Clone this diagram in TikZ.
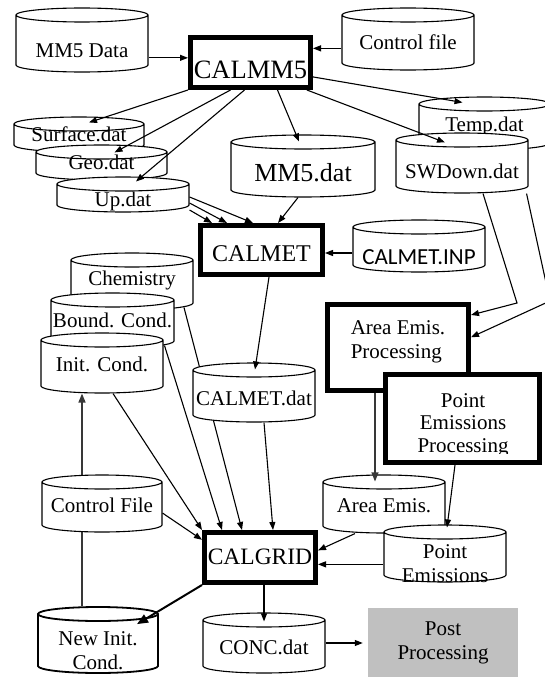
\documentclass[tikz,border=0pt]{standalone}
\usepackage{fontspec}
\setmainfont{Liberation Serif}
\newfontfamily\inpfont{Carlito}
\usetikzlibrary{arrows.meta}
\definecolor{PostGray}{HTML}{C0C0C0}
\definecolor{FlowGray}{HTML}{383838}
\newcommand\fsnorm{\fontsize{21}{24}\selectfont}
\newcommand\fsbig[1]{\fontsize{#1}{28}\selectfont}
\pgfdeclarelayer{back}
\pgfsetlayers{back,main}

% upright data cylinder on a rectangle
\makeatletter
\newdimen\cylxl \newdimen\cylxr \newdimen\cylyt \newdimen\cylyb
\newdimen\cylrx \newdimen\cylry
\pgfdeclareshape{datacyl}{%
  \inheritsavedanchors[from=rectangle]%
  \inheritanchorborder[from=rectangle]%
  \inheritanchor[from=rectangle]{center}%
  \inheritanchor[from=rectangle]{north}%
  \inheritanchor[from=rectangle]{south}%
  \inheritanchor[from=rectangle]{east}%
  \inheritanchor[from=rectangle]{west}%
  \inheritanchor[from=rectangle]{north east}%
  \inheritanchor[from=rectangle]{north west}%
  \inheritanchor[from=rectangle]{south east}%
  \inheritanchor[from=rectangle]{south west}%
  \backgroundpath{%
    \southwest \pgf@xa=\pgf@x \pgf@ya=\pgf@y
    \northeast \pgf@xb=\pgf@x \pgf@yb=\pgf@y
    \pgfmathsetlength\pgf@xc{\pgfkeysvalueof{/pgf/outer xsep}}%
    \pgfmathsetlength\pgf@yc{\pgfkeysvalueof{/pgf/outer ysep}}%
    \advance\pgf@xa by\pgf@xc \advance\pgf@ya by\pgf@yc
    \advance\pgf@xb by-\pgf@xc \advance\pgf@yb by-\pgf@yc
    \cylry=7pt
    \cylrx=\pgf@xb \advance\cylrx by-\pgf@xa \cylrx=.5\cylrx
    \cylxl=\pgf@xa \cylxr=\pgf@xb
    \cylyt=\pgf@yb \advance\cylyt by-\cylry
    \cylyb=\pgf@ya \advance\cylyb by\cylry
    \pgfpathmoveto{\pgfqpoint{\cylxl}{\cylyt}}%
    \pgfpathlineto{\pgfqpoint{\cylxl}{\cylyb}}%
    \pgfpatharc{180}{360}{\cylrx and \cylry}%
    \pgfpathlineto{\pgfqpoint{\cylxr}{\cylyt}}%
    \pgfpatharc{0}{180}{\cylrx and \cylry}%
    \pgfpathclose
    \pgfpathmoveto{\pgfqpoint{\cylxl}{\cylyt}}%
    \pgfpatharc{180}{360}{\cylrx and \cylry}%
  }%
}
\makeatother

\tikzset{
  datafile/.style={datacyl,draw,fill=white,line width=1.1pt,inner sep=0pt,align=center,font=\fsnorm},
  inkh/.style={text height=#1pt,text depth=0pt},
  progbox/.style={draw,line width=5pt,fill=white,inner sep=0pt,align=center},
  procbox/.style={draw,line width=5pt,fill=white,inner sep=0pt,align=center,font=\fsnorm},
  postbox/.style={fill=PostGray,inner sep=0pt,align=center,font=\fsnorm},
  flow/.style={-{Triangle[length=8pt,width=6pt]},line width=1.1pt},
  grayflow/.style={-{Triangle[length=9pt,width=7pt]},draw=FlowGray,line width=1.1pt},
  boldflow/.style={-{Triangle[length=11pt,width=9pt]},line width=2pt}
}

\begin{document}
\begin{tikzpicture}[x=1pt,y=-1pt]
  \useasboundingbox (0,0) rectangle (545,677);
  % meteorology part
  \node[datafile,inkh=34,minimum width=132pt,minimum height=64pt] (mmdata) at (82,40) {MM5 Data};
  \node[datafile,inkh=21,minimum width=132pt,minimum height=62pt] (ctrlmm) at (408,39) {Control file};
  \node[progbox,inkh=31,font=\fsbig{26.5},minimum width=120pt,minimum height=50pt] (calmm) at (250.5,62.5) {CALMM5};
  \node[datafile,inkh=16,minimum width=131pt,minimum height=53pt] (temp) at (484.5,123.5) {Temp.dat};
  \node[datafile,inkh=31,minimum width=132pt,minimum height=60pt] (swdown) at (462,163) {SWDown.dat};
  \node[datafile,inkh=14,minimum width=130pt,minimum height=35pt] (surface) at (79,134.5) {Surface.dat};
  \node[datafile,inkh=14,minimum width=131pt,minimum height=35pt] (geo) at (101.5,162.5) {Geo.dat};
  \node[datafile,inkh=23,minimum width=132pt,minimum height=35pt] (updat) at (123,194.5) {Up.dat};
  \node[datafile,inkh=30,font=\fsbig{26},minimum width=144pt,minimum height=62pt] (mmdat) at (303,166) {MM5.dat};
  \node[progbox,inkh=23,font=\fsbig{24},minimum width=122pt,minimum height=49pt] (calmet) at (261.5,250) {CALMET};
  \node[datafile,inkh=36,font=\inpfont\fontsize{23}{25}\selectfont,minimum width=132pt,minimum height=52pt] (calinp) at (419,246) {CALMET.INP};
  % chemistry part
  \node[datafile,inkh=8,minimum width=122pt,minimum height=57pt] (chem) at (132,281.5) {Chemistry};
  \node[datafile,inkh=14,minimum width=123pt,minimum height=55pt] (bound) at (112.5,320.5) {Bound. Cond.};
  \node[datafile,inkh=17,minimum width=122pt,minimum height=60pt] (initc) at (102,363) {Init. Cond.};
  \node[datafile,inkh=26,minimum width=122pt,minimum height=59pt] (metdat) at (254,392.5) {CALMET.dat};
  % emissions part
  \node[procbox,inkh=22,align=left,minimum width=141pt,minimum height=86pt] (areaproc) at (398,347.5) {Area Emis.\\Processing};
  \node[procbox,minimum width=154pt,minimum height=88pt] (pointproc) at (462.5,418.5) {};
  \begin{scope}
    \clip (pointproc.north west) rectangle ([yshift=12pt]pointproc.south east);
    \node[font=\fontsize{21}{22.5}\selectfont,align=center,inner sep=0pt] (pointtxt) at (463,425) {Point\\Emissions\\Processing};
  \end{scope}
  \node[datafile,inkh=17,minimum width=120pt,minimum height=57pt] (ctrlfile) at (102,503.5) {Control File};
  \node[datafile,inkh=17,minimum width=122pt,minimum height=58pt] (areaemis) at (384,504) {Area Emis.};
  \node[datafile,inkh=57,minimum width=122pt,minimum height=57pt] (pointemis) at (445,553.5) {Point\\Emissions};
  \node[progbox,inkh=14,font=\fsbig{23.5},minimum width=111pt,minimum height=50pt] (calgrid) at (260,557.5) {CALGRID};
  \node[datafile,inkh=58,line width=1.8pt,minimum width=120pt,minimum height=66pt] (newinit) at (98,640) {New Init.\\Cond.};
  \node[datafile,inkh=23,minimum width=122pt,minimum height=60pt] (conc) at (264,643) {CONC.dat};
  \node[postbox,minimum width=150pt,minimum height=70pt] (post) at (443,643) {Post\\Processing};
  \coordinate (bendA) at (517,303);
  \coordinate (bendB) at (550,301);

  % connectors
  \draw[flow] (mmdata.-15) -- (mmdata.-15 -| calmm.west);
  \draw[flow] (ctrlmm.188) -- (ctrlmm.188 -| calmm.east);
  \draw[flow] (calmm.south west) -- ([xshift=10pt,yshift=-6pt]surface.north);
  \draw[flow] ([xshift=-20pt]calmm.south) -- ([xshift=13pt,yshift=-8pt]geo.north);
  \draw[flow] ([xshift=-6pt]calmm.south) -- ([xshift=13pt,yshift=-5pt]updat.north);
  \draw[flow] ([xshift=27pt]calmm.south) -- ([xshift=-4pt,yshift=-7pt]mmdat.north);
  \draw[flow] (calmm.-13) -- ([xshift=-22pt,yshift=-6pt]temp.north);
  \draw[flow] (calmm.-26) -- ([xshift=-17pt,yshift=-10pt]swdown.north);
  \draw[flow] ([yshift=-2.5pt]updat.east) -- ([xshift=-8.5pt]calmet.north);
  \draw[flow] ([yshift=-8.5pt]updat.east) -- ([xshift=-34.5pt]calmet.north);
  \draw[flow] ([yshift=-15.5pt]updat.east) -- ([xshift=-49.5pt]calmet.north);
  \draw[flow] ([xshift=-5pt]mmdat.south) -- ([xshift=16.5pt]calmet.north);
  \draw[flow] (calinp.186) -- (calinp.186 -| calmet.east);
  \draw[flow] ([xshift=7.5pt]calmet.south) -- ([xshift=1pt,yshift=-7pt]metdat.north);
  \draw[flow] ([xshift=21pt]swdown.south) -- (bendA) -- (areaproc.24);
  \draw[flow] ([xshift=-2pt]swdown.south east) -- (bendB) -- (areaproc.8);
  \draw[grayflow] ([xshift=-23pt]areaproc.south) -- ([xshift=-9pt,yshift=-7pt]areaemis.north);
  \draw[flow] ([xshift=-7.5pt]pointproc.south) -- ([xshift=2pt,yshift=-3pt]pointemis.north);
  \draw[flow] ([xshift=-29pt]areaemis.south) -- (calgrid.7);
  \draw[flow] (pointemis.190) -- (pointemis.190 -| calgrid.east);
  \draw[flow] ([xshift=11pt]initc.south) -- (calgrid.north west);
  \draw[flow] ([xshift=52pt,yshift=3pt]bound.south) -- ([xshift=-38pt]calgrid.north);
  \begin{pgfonlayer}{back}
    \draw[flow] ([xshift=52pt,yshift=3pt]chem.south) -- ([xshift=-18pt]calgrid.north);
    \draw[grayflow,line width=1.5pt] ([xshift=-16pt]newinit.north) -- ([xshift=-20pt]initc.south);
  \end{pgfonlayer}
  \draw[flow] ([xshift=10pt]metdat.south) -- ([xshift=13pt]calgrid.north);
  \draw[flow] (ctrlfile.-9) -- (calgrid.163);
  \draw[boldflow] (calgrid.south west) -- ([xshift=39pt,yshift=-18pt]newinit.north);
  \draw[flow] (conc.north |- calgrid.south) -- ([yshift=-9pt]conc.north);
  \draw[flow,shorten >=5pt] (conc.east) -- (conc.east -| post.west);
\end{tikzpicture}
\end{document}
